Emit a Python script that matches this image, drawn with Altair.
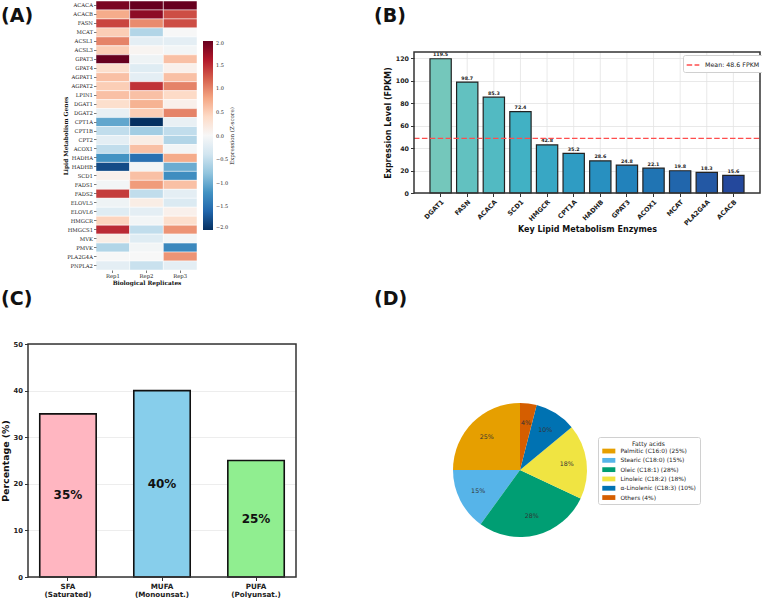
import altair as alt
import pandas as pd

W, H = 762, 598

# ---------------- Panel A : heatmap data ----------------
heat_genes = ["ACACA", "ACACB", "FASN", "MCAT", "ACSL1", "ACSL3", "GPAT3", "GPAT4",
              "AGPAT1", "AGPAT2", "LPIN1", "DGAT1", "DGAT2", "CPT1A", "CPT1B", "CPT2",
              "ACOX1", "HADHA", "HADHB", "SCD1", "FADS1", "FADS2", "ELOVL5", "ELOVL6",
              "HMGCR", "HMGCS1", "MVK", "PMVK", "PLA2G4A", "PNPLA2"]
replicates = ["Rep1", "Rep2", "Rep3"]
z_rep1 = [1.9, 0.75, 1.35, 0.5, 1.0, 0.5, 2.0, 0.35, 0.6, 0.5, 0.6, 0.35, -0.15, -1.05,
          -0.5, -0.2, -0.5, -1.2, -1.8, 0.1, -0.05, 1.4, -0.1, -0.25, 0.45, 1.5, 0.15,
          -0.6, 0.0, -0.2]
z_rep2 = [2.1, 1.8, 0.95, -0.6, -0.2, 0.05, -0.1, -0.25, -0.2, 1.45, 0.6, 0.7, 0.5, -2.0,
          -0.7, 0.15, 0.6, -1.5, -0.05, 0.6, 0.85, -0.5, 0.15, -0.2, -0.05, -0.5, -0.25,
          -0.05, 0.0, -0.45]
z_rep3 = [2.0, 1.3, 1.3, 0.0, -0.2, -0.05, 0.6, 0.1, 0.6, 1.0, 0.4, 0.1, 1.0, -0.15,
          -0.5, -0.6, -0.05, 0.75, -1.0, -1.25, 0.6, -0.2, -0.3, 0.1, 0.35, 0.9, -0.05,
          -1.3, 0.9, -0.2]
z_ticks = [-2.0, -1.5, -1.0, -0.5, 0.0, 0.5, 1.0, 1.5, 2.0]
# RdBu_r colour stops (low -> high)
rdbu_stops = [-2.0, -1.6, -1.2, -0.8, -0.4, 0.0, 0.4, 0.8, 1.2, 1.6, 2.0]
rdbu_colors = ["#053061", "#2166ac", "#4393c3", "#92c5de", "#d1e5f0", "#f7f7f7",
               "#fddbc7", "#f4a582", "#d6604d", "#b2182b", "#67001f"]

# ---------------- Panel B : bar data ----------------
enzymes = ["DGAT1", "FASN", "ACACA", "SCD1", "HMGCR", "CPT1A", "HADHB", "GPAT3",
           "ACOX1", "MCAT", "PLA2G4A", "ACACB"]
fpkm = [119.5, 98.7, 85.3, 72.4, 42.8, 35.2, 28.6, 24.8, 22.1, 19.8, 18.3, 15.6]
fpkm_ticks = [0, 20, 40, 60, 80, 100, 120]
bar_colors = ["#74c7bb", "#62c1c0", "#52bac2", "#41b1c4", "#38a7c4", "#2f9cc3",
              "#2890c0", "#2282bb", "#2074b3", "#2166ac", "#2358a4", "#24489c"]

# ---------------- Panel C : fatty-acid classes ----------------
fa_classes = ["SFA\n(Saturated)", "MUFA\n(Monounsat.)", "PUFA\n(Polyunsat.)"]
fa_pct = [35, 40, 25]
fa_colors = ["#ffb6c1", "#87ceeb", "#90ee90"]
pct_ticks = [0, 10, 20, 30, 40, 50]

# ---------------- Panel D : fatty-acid composition ----------------
acid_names = ["Palmitic (C16:0)", "Stearic (C18:0)", "Oleic (C18:1)", "Linoleic (C18:2)",
              "\u03b1-Linolenic (C18:3)", "Others"]
acid_pct = [25, 15, 28, 18, 10, 4]
acid_colors = ["#e69f00", "#56b4e9", "#009e73", "#f0e442", "#0072b2", "#d55e00"]

# ---------------- geometry of the panels (pixels) ----------------
A_X, A_Y = [96, 197], [1, 270]
B_X, B_Y = [414, 760], [193, 52]
C_X, C_Y = [28, 296], [577, 344]
D_CX, D_CY, D_R = 520, 470, 67

SANS = "DejaVu Sans"
SERIF = "DejaVu Serif"
DARK = "#222222"
GRID = "#e3e3e3"

# ================= Panel A =================
rows = []
for i, g in enumerate(heat_genes):
    for rep, vals in zip(replicates, [z_rep1, z_rep2, z_rep3]):
        rows.append({"gene": g, "rep": rep, "z": vals[i]})
df_a = pd.DataFrame(rows)

heat = alt.Chart(df_a).mark_rect(stroke="white", strokeWidth=0.5).encode(
    x=alt.X("rep:N", sort=replicates,
            scale=alt.Scale(domain=replicates, range=A_X, paddingInner=0, paddingOuter=0),
            axis=alt.Axis(orient="bottom", offset=-(H - A_Y[1]), title="Biological Replicates",
                          labelAngle=0, labelFont=SERIF, labelFontSize=5.3, labelColor=DARK,
                          labelPadding=1, tickSize=2.5, tickWidth=0.6, tickColor=DARK,
                          domain=False, grid=False,
                          titleFont=SERIF, titleFontSize=5.8, titleFontWeight="bold",
                          titleColor="#111", titleY=12.5, titleBaseline="middle")),
    y=alt.Y("gene:N", sort=heat_genes,
            scale=alt.Scale(domain=heat_genes, range=A_Y, paddingInner=0, paddingOuter=0),
            axis=alt.Axis(orient="left", offset=-A_X[0], title="Lipid Metabolism Genes",
                          labelFont=SERIF, labelFontSize=5.3, labelColor=DARK, labelPadding=1,
                          tickSize=2.5, tickWidth=0.6, tickColor=DARK, domain=False, grid=False,
                          titleFont=SERIF, titleFontSize=5.8, titleFontWeight="bold",
                          titleColor="#111", titleX=-31, titleBaseline="middle")),
    color=alt.Color("z:Q",
                    scale=alt.Scale(domain=rdbu_stops, range=rdbu_colors, interpolate="rgb",
                                    clamp=True),
                    legend=alt.Legend(orient="none", legendX=203, legendY=41,
                                      direction="vertical", title=None, gradientLength=189,
                                      gradientThickness=10, values=z_ticks, format=".1f",
                                      labelFont=SERIF, labelFontSize=5, labelColor=DARK,
                                      labelOffset=3, padding=0, gradientStrokeWidth=0,
                                      labelOverlap=False)),
)
cbar_title = alt.Chart().mark_text(text="Expression (Z-score)", angle=270, font=SERIF,
                                   fontSize=5.5, color=DARK, baseline="middle").encode(
    x=alt.value(232), y=alt.value(136))
panel_a = alt.layer(heat, cbar_title)

# ================= Panel B =================
df_b = pd.DataFrame({"gene": enzymes, "fpkm": fpkm})
mean_val = sum(fpkm) / len(fpkm)
df_mean = pd.DataFrame({"label": [f"Mean: {mean_val:.1f} FPKM"], "mean": [mean_val]})

xb_scale = alt.Scale(domain=enzymes, range=B_X, paddingInner=0.2, paddingOuter=0.6)
yb_scale = alt.Scale(domain=[0, 125.5], range=B_Y, nice=False, zero=False)

vgrid_b = alt.Chart(df_b).mark_rule(color=GRID, strokeWidth=0.8).encode(
    x=alt.X("gene:N", sort=enzymes, scale=xb_scale),
    y=alt.value(B_Y[1]), y2=alt.value(B_Y[0]),
)
bars_b = alt.Chart(df_b).mark_bar(stroke="#222", strokeWidth=1.2).encode(
    x=alt.X("gene:N", sort=enzymes, scale=xb_scale,
            axis=alt.Axis(orient="bottom", offset=-(H - B_Y[0]), title="Key Lipid Metabolism Enzymes",
                          labelAngle=-45, labelAlign="right", labelBaseline="top",
                          labelFont=SANS, labelFontWeight="bold", labelFontSize=6.5,
                          labelColor=DARK, labelPadding=2, tickSize=3.5, tickWidth=1,
                          tickColor="#333", domain=False, grid=False,
                          titleFont=SANS, titleFontSize=8, titleFontWeight="bold",
                          titleColor="#111", titleY=36, titleBaseline="middle")),
    y=alt.Y("fpkm:Q", scale=yb_scale,
            axis=alt.Axis(orient="left", offset=-B_X[0], title="Expression Level (FPKM)",
                          values=fpkm_ticks, labelFont=SANS, labelFontWeight="bold",
                          labelFontSize=6.3, labelColor=DARK, labelPadding=2, tickSize=3.5,
                          tickWidth=1, tickColor="#333", domain=False, grid=True,
                          gridColor=GRID, gridWidth=0.8,
                          titleFont=SANS, titleFontSize=8, titleFontWeight="bold",
                          titleColor="#111", titleX=-26, titleBaseline="middle")),
    fill=alt.Fill("gene:N", scale=alt.Scale(domain=enzymes, range=bar_colors), legend=None),
)
vals_b = alt.Chart(df_b).mark_text(baseline="bottom", dy=-1.5, font=SANS, fontSize=4.8,
                                   fontWeight="bold", color=DARK).encode(
    x=alt.X("gene:N", sort=enzymes, scale=xb_scale),
    y=alt.Y("fpkm:Q", scale=yb_scale),
    text=alt.Text("fpkm:Q", format=".1f"),
)
mean_rule = alt.Chart(df_mean).mark_rule(strokeDash=[5.5, 2.4], strokeWidth=1.3).encode(
    y=alt.Y("mean:Q", scale=yb_scale),
    x=alt.value(B_X[0]), x2=alt.value(B_X[1]),
    color=alt.Color("label:N", scale=alt.Scale(range=["#ff4d4d"]),
                    legend=alt.Legend(title=None, orient="none", legendX=683, legendY=55,
                                      symbolType="stroke", symbolDash=[5.5, 2.4],
                                      symbolStrokeWidth=1.3, symbolSize=160,
                                      labelFont=SANS, labelFontSize=6.3, labelColor=DARK,
                                      strokeColor="#d0d0d0", fillColor="white", padding=3,
                                      cornerRadius=2, labelOffset=5)),
)
frame_b = alt.Chart().mark_rect(fillOpacity=0, stroke="#333", strokeWidth=1.5).encode(
    x=alt.value(B_X[0]), x2=alt.value(B_X[1]), y=alt.value(B_Y[1]), y2=alt.value(B_Y[0]))
panel_b = alt.layer(vgrid_b, bars_b, vals_b, mean_rule, frame_b)

# ================= Panel C =================
df_c = pd.DataFrame({"cls": fa_classes, "pct": fa_pct, "lbl": [f"{v}%" for v in fa_pct]})
xc_scale = alt.Scale(domain=fa_classes, range=C_X, paddingInner=0.4, paddingOuter=0.125)
yc_scale = alt.Scale(domain=[0, 50], range=C_Y, nice=False, zero=False)

bars_c = alt.Chart(df_c).mark_bar(stroke="#111", strokeWidth=1.6).encode(
    x=alt.X("cls:N", sort=fa_classes, scale=xc_scale,
            axis=alt.Axis(orient="bottom", offset=-(H - C_Y[0]), title=None, labelAngle=0,
                          labelExpr="split(datum.label, '\\n')", labelFont=SANS,
                          labelFontWeight="bold", labelFontSize=7.2, labelLineHeight=8,
                          labelColor=DARK, labelPadding=2, tickSize=3.5, tickWidth=1,
                          tickColor="#333", domain=False, grid=False)),
    y=alt.Y("pct:Q", scale=yc_scale,
            axis=alt.Axis(orient="left", offset=-C_X[0], title="Percentage (%)",
                          values=pct_ticks, labelFont=SANS, labelFontWeight="bold",
                          labelFontSize=6.8, labelColor=DARK, labelPadding=2, tickSize=3.5,
                          tickWidth=1, tickColor="#333", domain=False, grid=True,
                          gridColor="#e8e8e8", gridWidth=0.8,
                          titleFont=SANS, titleFontSize=9.4, titleFontWeight="bold",
                          titleColor="#111", titleX=-23, titleBaseline="middle")),
    fill=alt.Fill("cls:N", scale=alt.Scale(domain=fa_classes, range=fa_colors), legend=None),
)
vals_c = alt.Chart(df_c).transform_calculate(mid="datum.pct / 2").mark_text(
    font=SANS, fontSize=12, fontWeight="bold", color="#111", baseline="middle").encode(
    x=alt.X("cls:N", sort=fa_classes, scale=xc_scale),
    y=alt.Y("mid:Q", scale=yc_scale),
    text="lbl:N",
)
frame_c = alt.Chart().mark_rect(fillOpacity=0, stroke="#333", strokeWidth=1.5).encode(
    x=alt.value(C_X[0]), x2=alt.value(C_X[1]), y=alt.value(C_Y[1]), y2=alt.value(C_Y[0]))
panel_c = alt.layer(bars_c, vals_c, frame_c)

# ================= Panel D =================
legend_labels = [f"{n} ({p}%)" for n, p in zip(acid_names, acid_pct)]
df_d = pd.DataFrame({"legend": legend_labels, "pct": acid_pct,
                     "idx": list(range(len(acid_pct))),
                     "lbl": [f"{p}%" for p in acid_pct]})

pie = alt.Chart(df_d).mark_arc(radius=D_R).encode(
    theta=alt.Theta("pct:Q", stack=True),
    order=alt.Order("idx:Q", sort="descending"),
    color=alt.Color("legend:N", scale=alt.Scale(domain=legend_labels, range=acid_colors),
                    legend=alt.Legend(title="Fatty acids", orient="none", legendX=598,
                                      legendY=437, titleAnchor="middle", titleFont=SANS,
                                      titleFontWeight="normal", titleFontSize=6.1,
                                      titleColor=DARK, titlePadding=1.5, labelFont=SANS,
                                      labelFontSize=5.9, labelColor=DARK,
                                      symbolType="M-1,-1.1H5V1.1H-1Z", symbolSize=19,
                                      symbolStrokeWidth=0, labelOffset=13, rowPadding=2.3,
                                      strokeColor="#d0d0d0", fillColor="white", padding=3.5,
                                      cornerRadius=2, labelLimit=200)),
    x=alt.value(D_CX), y=alt.value(D_CY),
)
pie_text = alt.Chart(df_d).mark_text(radius=47, font=SANS, fontSize=6.3, color="#333").encode(
    theta=alt.Theta("pct:Q", stack=True),
    order=alt.Order("idx:Q", sort="descending"),
    text="lbl:N",
    x=alt.value(D_CX), y=alt.value(D_CY),
)
panel_d = alt.layer(pie, pie_text)

# ================= panel letters =================
def letter(txt, x, y):
    return alt.Chart().mark_text(text=txt, font=SANS, fontSize=19, fontWeight="bold",
                                 color="#111", align="left", baseline="alphabetic").encode(
        x=alt.value(x), y=alt.value(y))

letters = [letter("(A)", 1, 22), letter("(B)", 374, 22), letter("(C)", 1, 305),
           letter("(D)", 374, 305)]

chart = alt.layer(panel_a, panel_b, panel_c, panel_d, *letters).resolve_scale(
    x="independent", y="independent", color="independent", fill="independent",
    theta="independent"
).properties(
    width=W, height=H, padding=0, autosize=alt.AutoSizeParams(type="none"),
    background="white"
).configure_view(stroke=None)

chart.save("out.html", embed_options={"renderer": "svg", "actions": False})
